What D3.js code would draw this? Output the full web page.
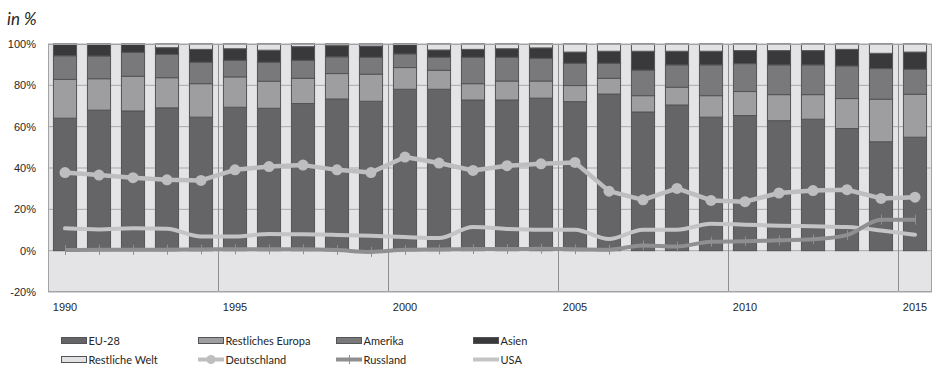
<!DOCTYPE html>
<html>
<head>
<meta charset="utf-8">
<script src="https://cdn.jsdelivr.net/npm/d3@7"></script>
<style>
  html, body { margin: 0; padding: 0; background: #fff; }
  svg { display: block; font-family: Lato, "Open Sans", sans-serif; }
  .axis text { fill: #262626; font-size: 11px; }
  .legend text { fill: #262626; font-size: 11px; }
</style>
</head>
<body>
<svg id="chart" width="934" height="365"></svg>
<script>
// Jahre
const years = [1990,1991,1992,1993,1994,1995,1996,1997,1998,1999,2000,2001,2002,
               2003,2004,2005,2006,2007,2008,2009,2010,2011,2012,2013,2014,2015];

// Anteile der Regionen (gestapelte Säulen, in %)
const eu28       = [64.1,68.0,67.6,69.1,64.6,69.4,68.9,71.2,73.4,72.3,78.1,78.1,72.9,
                    72.9,73.8,72.1,75.8,67.1,70.5,64.6,65.4,62.9,63.6,59.1,52.7,54.9];
const restEuropa = [18.8,15.2,16.8,14.6,16.2,14.7,13.1,12.2,12.3,13.1,10.5,9.2,7.9,
                    9.2,8.3,7.8,7.6,7.9,8.6,10.4,11.6,12.6,11.9,14.5,20.6,20.8];
const amerika    = [11.4,11.0,11.6,11.3,10.4,8.0,9.2,8.7,8.1,8.2,6.6,6.3,12.8,
                    11.5,11.0,10.8,7.3,12.4,10.8,14.9,13.5,14.4,14.4,15.8,14.8,12.1];
const asien      = [5.7,5.8,4.0,3.2,6.2,5.6,5.8,6.6,5.4,5.4,4.5,3.5,3.8,
                    4.1,5.0,5.4,5.8,9.1,6.6,6.6,6.3,6.9,6.9,8.0,7.4,8.3];
const restWelt   = [0.0,0.0,0.0,1.8,2.6,2.3,3.0,1.3,0.8,1.0,0.3,2.9,2.6,
                    2.3,1.9,3.9,3.5,3.5,3.5,3.5,3.2,3.2,3.2,2.6,4.5,3.9];

// Linien (in %)
const deutschland = [37.8,36.6,35.3,34.3,34.0,39.1,40.7,41.4,39.1,37.8,45.3,42.4,38.8,
                     41.1,42.0,42.7,28.8,24.6,30.1,24.3,23.7,27.9,29.1,29.5,25.3,25.9];
const russland    = [0.3,0.4,0.4,0.5,0.6,0.7,0.7,0.7,0.3,-0.6,0.4,0.6,0.8,
                     0.8,0.9,0.7,0.5,2.5,2.0,4.3,4.5,5.0,5.5,7.5,15.0,15.0];
const usa         = [10.8,10.3,10.8,10.6,6.9,6.9,8.1,7.9,7.6,7.2,6.6,6.1,11.4,
                     10.5,10.1,10.1,5.6,10.1,10.1,13.0,12.6,12.1,11.8,11.4,9.8,7.7];

const yTicks = [-20, 0, 20, 40, 60, 80, 100];
const xLabelYears = [1990, 1995, 2000, 2005, 2010, 2015];

const stackKeys = ["EU-28", "Restliches Europa", "Amerika", "Asien", "Restliche Welt"];
const stackSeries = [eu28, restEuropa, amerika, asien, restWelt];
const stackColors = ["#656567", "#9e9ea0", "#79797b", "#39393b", "#e2e2e4"];

const svg = d3.select("#chart");
const plot = { left: 48, right: 932, top: 44, bottom: 292 };

const x = d3.scaleBand()
  .domain(years)
  .range([plot.left, plot.right])
  .paddingInner(0.32)
  .paddingOuter(0.16);

const y = d3.scaleLinear().domain([-20, 100]).range([plot.bottom, plot.top]);

// Zeichenfläche
svg.append("rect")
  .attr("x", plot.left).attr("y", plot.top)
  .attr("width", plot.right - plot.left).attr("height", plot.bottom - plot.top)
  .attr("fill", "#e4e4e6");

// horizontale Gitterlinien
svg.append("g").selectAll("line").data(yTicks).join("line")
  .attr("x1", plot.left).attr("x2", plot.right)
  .attr("y1", d => y(d)).attr("y2", d => y(d))
  .attr("stroke", "#a9a9ab").attr("stroke-width", 1);

// vertikale Trennlinien alle fünf Jahre
const dividerYears = years.filter((d, i) => i > 0 && i % 5 === 0);
svg.append("g").selectAll("line").data(dividerYears).join("line")
  .attr("x1", d => Math.round(x(d) + x.bandwidth() / 2 - x.step() / 2) + 0.5)
  .attr("x2", d => Math.round(x(d) + x.bandwidth() / 2 - x.step() / 2) + 0.5)
  .attr("y1", plot.top).attr("y2", plot.bottom)
  .attr("stroke", "#8e8e90").attr("stroke-width", 1);

// gestapelte Säulen
const rows = years.map((yr, i) => {
  const r = { year: yr };
  stackKeys.forEach((k, j) => { r[k] = stackSeries[j][i]; });
  return r;
});
const stacked = d3.stack().keys(stackKeys)(rows);

svg.append("g").selectAll("g").data(stacked).join("g")
  .attr("fill", (d, i) => stackColors[i])
  .selectAll("rect").data(d => d).join("rect")
  .attr("x", d => x(d.data.year))
  .attr("width", x.bandwidth())
  .attr("y", d => y(d[1]))
  .attr("height", d => Math.max(0, y(d[0]) - y(d[1])))
  .attr("stroke", "#545456").attr("stroke-width", 1);

// Rahmen der Zeichenfläche
svg.append("rect")
  .attr("x", plot.left + 0.5).attr("y", plot.top + 0.5)
  .attr("width", plot.right - plot.left - 1).attr("height", plot.bottom - plot.top - 1)
  .attr("fill", "none").attr("stroke", "#a3a3a5").attr("stroke-width", 1);

const cx = d => x(d) + x.bandwidth() / 2;

// USA
svg.append("path")
  .datum(years.map((yr, i) => [cx(yr), y(usa[i])]))
  .attr("fill", "none").attr("stroke", "#c4c4c6").attr("stroke-width", 4)
  .attr("stroke-linejoin", "round").attr("stroke-linecap", "round")
  .attr("d", d3.line().curve(d3.curveMonotoneX));

// Russland
svg.append("path")
  .datum(years.map((yr, i) => [cx(yr), y(russland[i])]))
  .attr("fill", "none").attr("stroke", "#8f8f91").attr("stroke-width", 4)
  .attr("stroke-linejoin", "round")
  .attr("d", d3.line().curve(d3.curveMonotoneX));
svg.append("g").selectAll("line").data(years).join("line")
  .attr("x1", d => Math.round(cx(d)) + 0.5).attr("x2", d => Math.round(cx(d)) + 0.5)
  .attr("y1", (d, i) => y(russland[i]) - 5).attr("y2", (d, i) => y(russland[i]) + 5)
  .attr("stroke", "#8f8f91").attr("stroke-width", 1);

// Deutschland
svg.append("path")
  .datum(years.map((yr, i) => [cx(yr), y(deutschland[i])]))
  .attr("fill", "none").attr("stroke", "#bebec0").attr("stroke-width", 4.5)
  .attr("stroke-linejoin", "round")
  .attr("d", d3.line());
svg.append("g").selectAll("circle").data(years).join("circle")
  .attr("cx", d => cx(d))
  .attr("cy", (d, i) => y(deutschland[i]))
  .attr("r", 5.5)
  .attr("fill", "#bebec0");

// Achsen
const yAxis = d3.axisLeft(y).tickValues(yTicks).tickSize(0).tickPadding(12)
  .tickFormat(d => d + "%");
svg.append("g").attr("class", "axis")
  .attr("transform", `translate(${plot.left},0)`)
  .call(yAxis)
  .call(g => g.select(".domain").remove());

const xAxis = d3.axisBottom(x).tickValues(xLabelYears).tickSize(0).tickPadding(11);
svg.append("g").attr("class", "axis")
  .attr("transform", `translate(0,${plot.bottom})`)
  .call(xAxis)
  .call(g => g.select(".domain").remove());

// Einheit
svg.append("text")
  .attr("x", 7).attr("y", 25)
  .attr("font-size", 17).attr("font-style", "italic")
  .attr("fill", "#262626")
  .text("in %");

// Legende
const legendItems = [
  { label: "EU-28", type: "rect", color: stackColors[0], col: 0, row: 0 },
  { label: "Restliches Europa", type: "rect", color: stackColors[1], col: 1, row: 0 },
  { label: "Amerika", type: "rect", color: stackColors[2], col: 2, row: 0 },
  { label: "Asien", type: "rect", color: stackColors[3], col: 3, row: 0 },
  { label: "Restliche Welt", type: "rect", color: stackColors[4], col: 0, row: 1 },
  { label: "Deutschland", type: "circle", color: "#bebec0", col: 1, row: 1 },
  { label: "Russland", type: "tick", color: "#8f8f91", col: 2, row: 1 },
  { label: "USA", type: "line", color: "#c4c4c6", col: 3, row: 1 }
];
const colX = [61, 198, 336, 473];
const rowY = [340, 359];
const swW = 26;

const leg = svg.append("g").attr("class", "legend")
  .selectAll("g").data(legendItems).join("g")
  .attr("transform", d => `translate(${colX[d.col]},${rowY[d.row]})`);

leg.filter(d => d.type === "rect").append("rect")
  .attr("x", 0.5).attr("y", -2.5).attr("width", swW - 1).attr("height", 6)
  .attr("fill", d => d.color).attr("stroke", "#545456").attr("stroke-width", 1);

leg.filter(d => d.type !== "rect").append("line")
  .attr("x1", 0).attr("x2", swW).attr("y1", 0.5).attr("y2", 0.5)
  .attr("stroke", d => d.color).attr("stroke-width", 4);

leg.filter(d => d.type === "circle").append("circle")
  .attr("cx", swW / 2).attr("cy", 0.5).attr("r", 4.5).attr("fill", d => d.color);

leg.filter(d => d.type === "tick").append("line")
  .attr("x1", swW / 2 + 0.5).attr("x2", swW / 2 + 0.5).attr("y1", -4).attr("y2", 5)
  .attr("stroke", d => d.color).attr("stroke-width", 1);

leg.append("text")
  .attr("x", swW + 1.5).attr("y", 4.5)
  .text(d => d.label);
</script>
</body>
</html>
